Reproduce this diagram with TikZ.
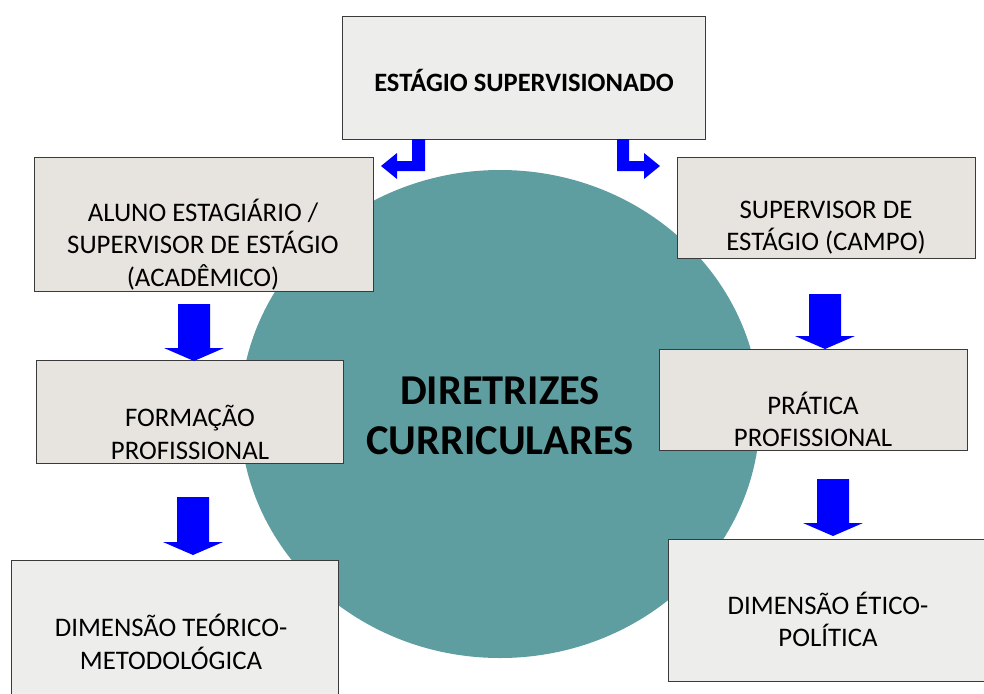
\documentclass[tikz,border=0pt]{standalone}
\usepackage{fontspec}
\usetikzlibrary{shapes.geometric}
\setmainfont{Carlito}
\definecolor{circfill}{HTML}{5F9EA0}
\definecolor{paperA}{HTML}{EDEDEC}
\definecolor{paperB}{HTML}{E7E4E0}
\definecolor{boxline}{HTML}{3A3A3A}
\definecolor{arrowblue}{HTML}{0000FF}
\newcommand\mydnarrow[3]{%
  \fill[blockarrow] (#1-16,#2) -- (#1+16,#2) -- (#1+16,#3) -- (#1+30,#3) -- (#1,#3+13) -- (#1-30,#3) -- (#1-16,#3) -- cycle;}
\begin{document}
\begin{tikzpicture}[x=1pt,y=-1pt,
  paper/.style={draw=boxline, line width=0.9pt, inner sep=0pt},
  lbl/.style={align=center, inner sep=0pt, font=\fontsize{26.8}{32.5}\selectfont},
  big/.style={align=center, inner sep=0pt, font=\fontsize{42.5}{50}\selectfont\bfseries},
  blockarrow/.style={fill=arrowblue}]
\useasboundingbox (0,0) rectangle (984,693);
\fill[white] (0,0) rectangle (984,693);
% central ellipse
\node[ellipse, fill=circfill, draw=none, minimum width=520pt, minimum height=488pt, inner sep=0pt] (circ) at (500,414) {};
\node[big] (circT) at (500,416) {DIRETRIZES\\CURRICULARES};
% boxes
\node[paper, fill=paperA, minimum width=363pt, minimum height=123pt] (sup) at (523.5,77.5) {};
\node[paper, fill=paperB, minimum width=339pt, minimum height=134pt] (aluno) at (203.5,224) {};
\node[paper, fill=paperB, minimum width=298pt, minimum height=101pt] (campo) at (826,207.5) {};
\node[paper, fill=paperB, minimum width=307pt, minimum height=103pt] (form) at (189.5,411.5) {};
\node[paper, fill=paperB, minimum width=308pt, minimum height=101pt] (prat) at (813,399.5) {};
\node[paper, fill=paperA, minimum width=327pt, minimum height=170pt] (teor) at (174.5,645) {};
\node[paper, fill=paperA, minimum width=342pt, minimum height=142pt] (etic) at (839,610) {};
% texts
\node[lbl, font=\fontsize{26.5}{32.5}\selectfont\bfseries] (supT) at (524,80.5) {ESTÁGIO SUPERVISIONADO};
\node[lbl] (alunoT) at (203,244.5) {ALUNO ESTAGIÁRIO /\\SUPERVISOR DE ESTÁGIO\\(ACADÊMICO)};
\node[lbl] (campoT) at (826,227.5) {SUPERVISOR DE\\ESTÁGIO (CAMPO)};
\node[lbl] (formT) at (190,432.5) {FORMAÇÃO\\PROFISSIONAL};
\node[lbl] (pratT) at (813,419.5) {PRÁTICA\\PROFISSIONAL};
\node[lbl] (teorT) at (171,642) {DIMENSÃO TEÓRICO-\\METODOLÓGICA};
\node[lbl] (eticT) at (828,619.5) {DIMENSÃO ÉTICO-\\POLÍTICA};
% bent arrows from the top box
\fill[blockarrow] (412,139) -- (425,139) -- (425,171) -- (397,171) -- (397,179) -- (381,166) -- (397,153) -- (397,161) -- (412,161) -- cycle;
\fill[blockarrow] (617,139) -- (629,139) -- (629,161) -- (644,161) -- (644,153) -- (660,166) -- (644,179) -- (644,171) -- (617,171) -- cycle;
% down arrows
\mydnarrow{194}{304}{348}
\mydnarrow{193}{497}{542}
\mydnarrow{825}{294}{336}
\mydnarrow{833}{479}{523}
\end{tikzpicture}
\end{document}
